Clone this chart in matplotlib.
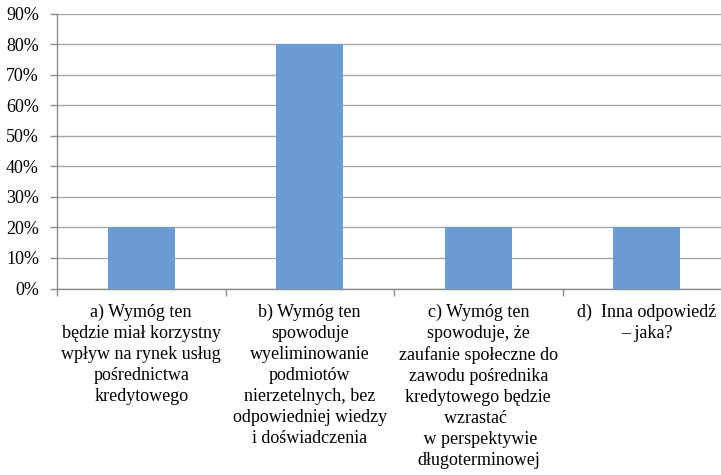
import matplotlib
matplotlib.use("Agg")
import matplotlib.pyplot as plt
from matplotlib.ticker import PercentFormatter

# data
categories = [
    "a) Wymóg ten\nbędzie miał korzystny\nwpływ na rynek usług\npośrednictwa\nkredytowego",
    "b) Wymóg ten\nspowoduje\nwyeliminowanie\npodmiotów\nnierzetelnych, bez\nodpowiedniej wiedzy\ni doświadczenia",
    "c) Wymóg ten\nspowoduje, że\nzaufanie społeczne do\nzawodu pośrednika\nkredytowego będzie\nwzrastać \n w perspektywie\ndługoterminowej",
    "d)  Inna odpowiedź\n– jaka?",
]
shares = [20, 80, 20, 20]
y_ticks = [0, 10, 20, 30, 40, 50, 60, 70, 80, 90]

plt.rcParams['font.family'] = ['Liberation Serif', 'DejaVu Serif']

fig = plt.figure(figsize=(7.21, 4.75), dpi=100)
# last category runs past the right edge in the original, so the axes do too
ax = fig.add_axes([57 / 721, 1 - 288.5 / 475, 674 / 721, 275 / 475])

x = list(range(len(categories)))
ax.bar(x, shares, width=0.40, color="#6A9BD2", zorder=3)

ax.set_xlim(-0.5, len(categories) - 0.5)
ax.set_ylim(0, 90)
ax.set_yticks(y_ticks)
ax.yaxis.set_major_formatter(PercentFormatter(decimals=0))
ax.grid(axis="y", color="#A6A6A6", linewidth=1.0, zorder=0)

ax.set_xticks(x)
ax.set_xticklabels(categories, fontsize=13, linespacing=1.31, va="top")
ax.set_xticks([i - 0.5 for i in x], minor=True)
ax.tick_params(axis="x", which="major", length=0, pad=11)
ax.tick_params(axis="x", which="minor", length=5, color="#8C8C8C", width=1)
ax.tick_params(axis="y", length=5, color="#8C8C8C", width=1, labelsize=13, pad=8)

for s in ["top", "right"]:
    ax.spines[s].set_visible(False)
for s in ["left", "bottom"]:
    ax.spines[s].set_color("#8C8C8C")
    ax.spines[s].set_linewidth(1)

fig.savefig("out.png", dpi=100)
